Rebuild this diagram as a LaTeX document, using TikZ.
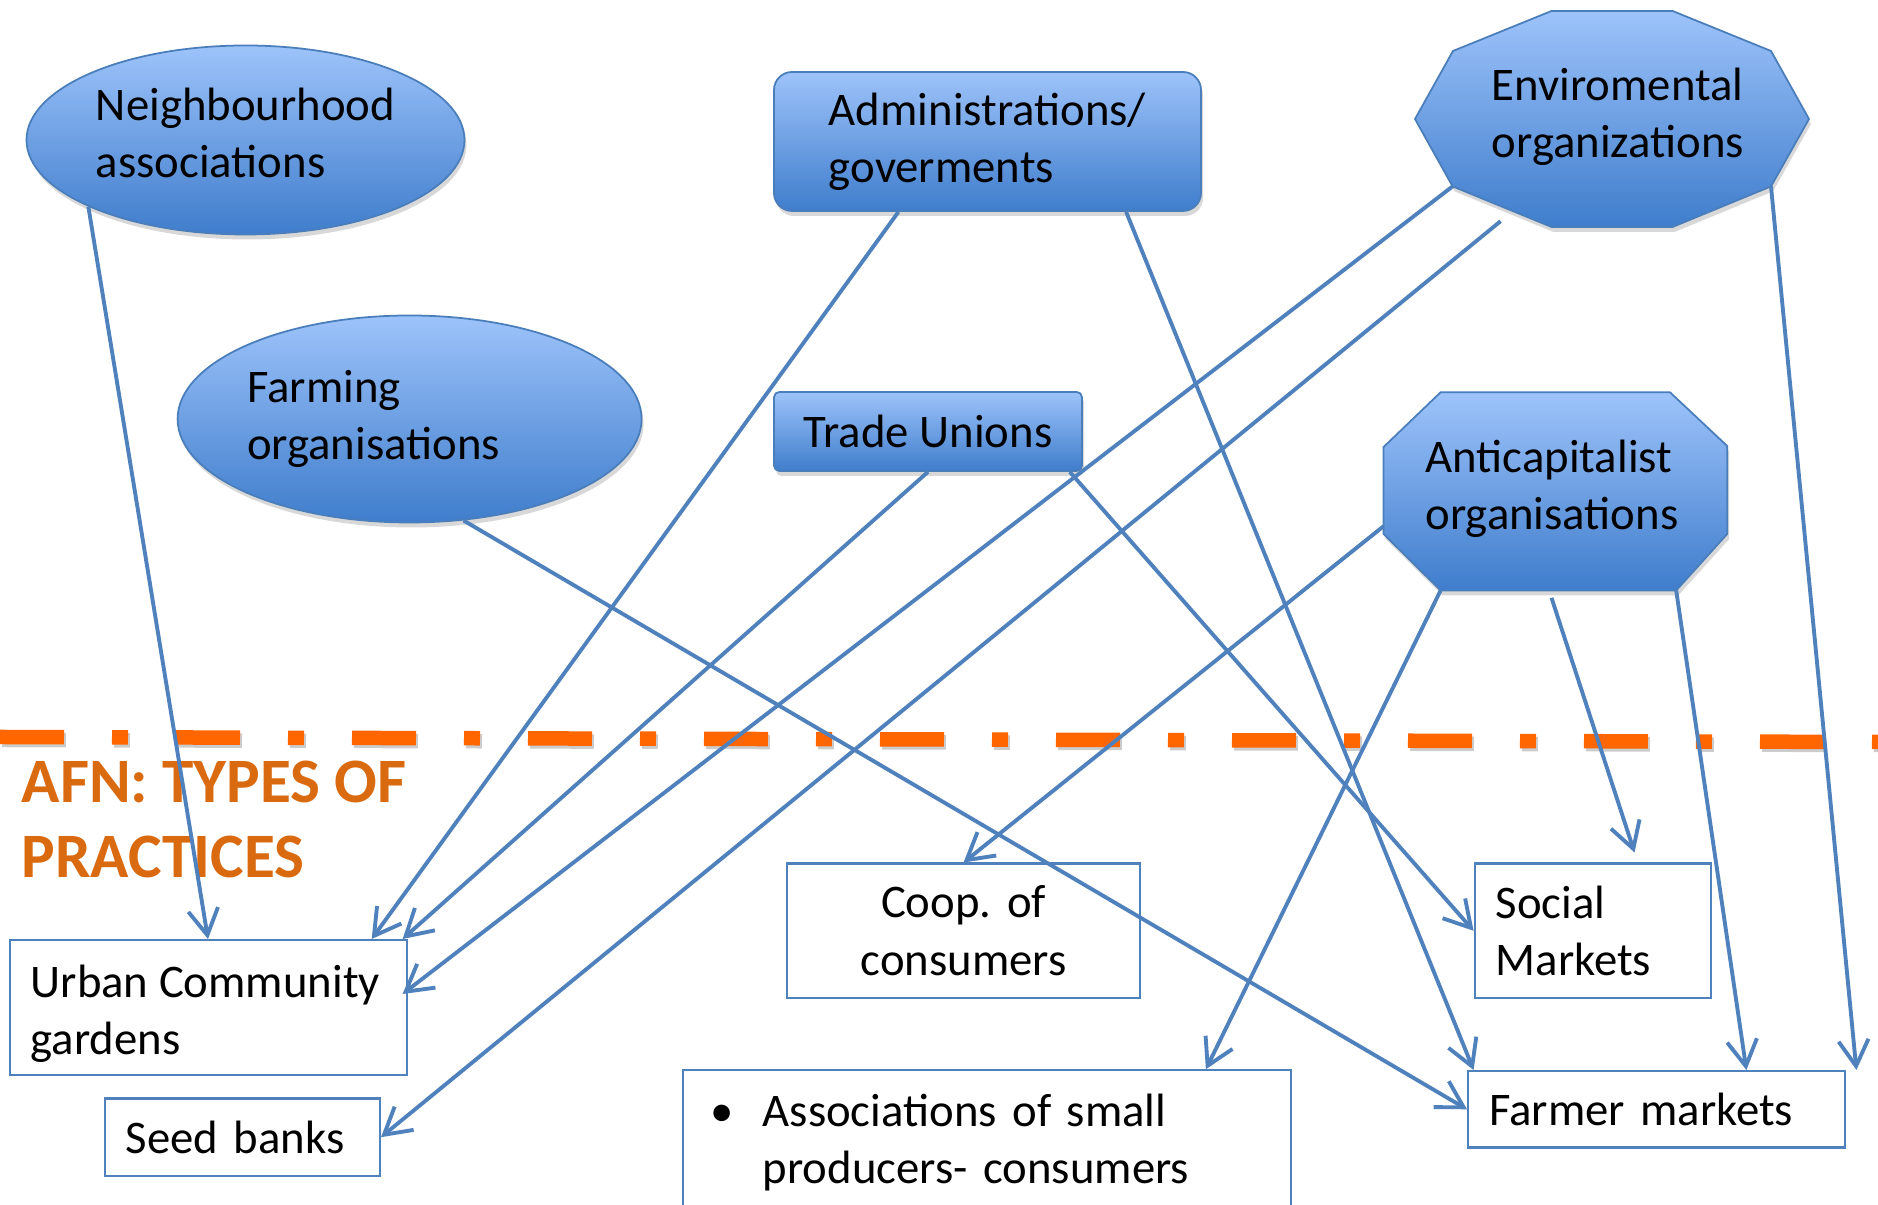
\documentclass[tikz,border=0pt]{standalone}
\usepackage{fontspec}
\setmainfont{Carlito}
\usetikzlibrary{arrows.meta}
\usetikzlibrary{shapes.geometric,shadows}
\frenchspacing

\definecolor{linecol}{RGB}{79,129,189}
\definecolor{shapetop}{RGB}{157,195,250}
\definecolor{shapebot}{RGB}{63,125,204}
\definecolor{shapeedge}{RGB}{74,126,187}
\definecolor{afnorange}{RGB}{218,106,16}
\definecolor{dashorange}{RGB}{255,102,0}

\begin{document}
\begin{tikzpicture}[font=\fontsize{13.3}{16.3}\selectfont]
    \tikzstyle{actor} = [draw=shapeedge, line width=0.5pt, top color=shapetop, bottom color=shapebot, drop shadow={shadow xshift=0.02cm, shadow yshift=-0.05cm, opacity=0.3}];
    \tikzstyle{oval} = [actor, ellipse, inner sep=0pt, align=left];
    \tikzstyle{panel} = [actor, rectangle, inner sep=0pt, align=left];
    \tikzstyle{practice} = [draw=linecol, line width=0.6pt, fill=white, rectangle, anchor=north west, inner xsep=0.21cm, inner ysep=0pt, align=left];
    \tikzstyle{afnline} = [draw=dashorange, line width=0.145cm, dash pattern=on 0.64cm off 0.48cm on 0.16cm off 0.48cm];
    \tikzstyle{line} = [draw=linecol, line width=1.1pt, -{Straight Barb[length=0.26cm, width=0.3cm]}];

    \useasboundingbox[fill=white] (0,0) rectangle (18.78,-12.05);

    % organisations
    \node[oval, minimum width=4.38cm, minimum height=1.89cm, label={[align=left, yshift=0.07cm]center:Neighbourhood\\associations}] (neigh) at (2.455,-1.40) {};
    \node[oval, minimum width=4.64cm, minimum height=2.07cm, text width=3.25cm] (farm) at (4.096,-4.19) {Farming\\organisations};
    \node[panel, minimum width=4.27cm, minimum height=1.39cm, rounded corners=0.18cm] (admin) at (9.875,-1.415) {Administrations/\\goverments};
    \node[panel, minimum width=3.08cm, minimum height=0.79cm, rounded corners=1.5pt] (trade) at (9.28,-4.315) {Trade Unions};
    \path[actor] (14.15,-1.19) -- (14.53,-0.51) -- (15.515,-0.11) -- (16.726,-0.11) -- (17.71,-0.51) -- (18.09,-1.19)
        -- (17.71,-1.864) coordinate (env-se) -- (16.726,-2.27) -- (15.515,-2.27) -- (14.526,-1.864) coordinate (env-sw) -- cycle;
    \node[align=left] (env) at (16.18,-1.166) {Enviromental\\organizations};
    \coordinate (env-b) at (15.006,-2.212);
    \path[actor] (13.836,-4.47) -- (14.406,-3.923) -- (16.70,-3.923) -- (17.272,-4.46) -- (17.272,-5.34)
        -- (16.762,-5.905) coordinate (anti-br) -- (14.406,-5.905) coordinate (anti-bl) -- (13.836,-5.34) -- cycle;
    \node[align=left] (anti) at (15.52,-4.886) {Anticapitalist\\organisations};
    \coordinate (anti-l) at (13.836,-5.262);
    \coordinate (anti-b) at (15.515,-5.978);

    % border line and title
    \coordinate (dl) at (0,-7.37);
    \coordinate (dr) at (18.78,-7.42);
    \draw[afnline, draw=black, opacity=0.2, transform canvas={xshift=0.02cm, yshift=-0.03cm}] (dl) -- (dr);
    \draw[afnline] (dl) -- (dr);
    \node[anchor=north west, inner sep=0pt, align=left, text=afnorange, font=\bfseries\fontsize{18}{21.5}\selectfont] (afn) at (0.21,-7.60) {AFN: TYPES OF\\PRACTICES};

    % practices
    \node[practice, minimum width=3.97cm, minimum height=1.35cm, label={[align=left, anchor=west, inner sep=0pt, xshift=0.21cm, yshift=-0.06cm]west:Urban Community\\gardens}] (urban) at (0.09,-9.39) {};
    \node[practice, text width=2.332cm, minimum height=0.773cm] (seed) at (1.037,-10.975) {Seed banks};
    \node[practice, text width=3.11cm, minimum height=1.345cm, align=center] (coop) at (7.86,-8.625) {Coop. of\\consumers};
    \node[practice, inner xsep=0.274cm, text width=5.536cm, minimum height=1.44cm] (assoc) at (6.816,-10.692) {\makebox[0.527cm][l]{\textbullet}Associations of small\\\hspace*{0.527cm}producers- consumers};
    \node[practice, text width=1.942cm, minimum height=1.345cm] (social) at (14.736,-8.625) {Social\\Markets};
    \node[practice, text width=3.35cm, minimum height=0.765cm] (farmer) at (14.67,-10.70) {Farmer markets};

    \tikzstyle{every path}=[line]
    \path (neigh.203) -- ([xshift=1.99cm]urban.north west);
    \path ([xshift=1.253cm]admin.south west) -- ([xshift=3.627cm]urban.north west);
    \path (trade.south) -- ([xshift=-0.055cm]urban.north east);
    \path (env-sw) -- ([xshift=-0.055cm, yshift=-0.55cm]urban.north east);
    \path (env-b) -- (seed.east);
    \path (farm.298) -- (farmer.west);
    \path ([xshift=-0.131cm]trade.south east) -- (social.west);
    \path ([xshift=3.53cm]admin.south west) -- ([xshift=0.066cm]farmer.north west);
    \path (anti-l) -- (coop.north);
    \path (anti-bl) -- ([xshift=-0.862cm]assoc.north east);
    \path (anti-b) -- ([xshift=-0.774cm, yshift=0.1cm]social.north east);
    \path (anti-br) -- ([xshift=2.794cm]farmer.north west);
    \path (env-se) -- ([xshift=0.103cm]farmer.north east);
\end{tikzpicture}
\end{document}
